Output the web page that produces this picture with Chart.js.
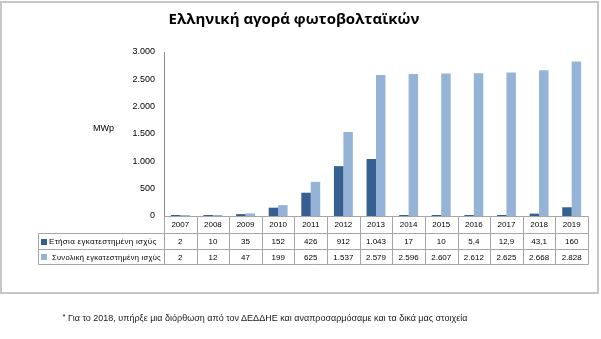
<!DOCTYPE html>
<html>
<head>
<meta charset="utf-8">
<script src="https://cdn.jsdelivr.net/npm/chart.js@4/dist/chart.umd.min.js"></script>
<style>
  html, body { margin: 0; padding: 0; background: #fff; }
  #wrap { position: relative; width: 601px; height: 339px; overflow: hidden; }
  #frame { position: absolute; left: 0; top: 1px; width: 595px; height: 289px; border: 2px solid #C6C6C6; }
  canvas { position: absolute; left: 0; top: 0; }
  #note { position: absolute; left: 0; width: 530px; top: 312px; text-align: center;
          font: 9px "Liberation Sans", Arial, sans-serif; color: #1a1a1a; white-space: nowrap; }
  #note sup { font-size: 8px; vertical-align: 2px; }
</style>
</head>
<body>
<div id="wrap">
  <div id="frame"></div>
  <canvas id="pv" width="601" height="339"></canvas>
  <div id="note"><sup>*</sup> Για το 2018, υπήρξε μια διόρθωση από τον ΔΕΔΔΗΕ και αναπροσαρμόσαμε και τα δικά μας στοιχεία</div>
</div>
<script>
// Installed PV capacity in Greece (MWp)
const years = ['2007','2008','2009','2010','2011','2012','2013','2014','2015','2016','2017','2018','2019'];
const annualMW = [2, 10, 35, 152, 426, 912, 1043, 17, 10, 5.4, 12.9, 43.1, 160];
const totalMW = [2, 12, 47, 199, 625, 1537, 2579, 2596, 2607, 2612, 2625, 2668, 2828];
const seriesNames = ['Ετήσια εγκατεστημένη ισχύς', 'Συνολική εγκατεστημένη ισχύς'];
const titleText = 'Ελληνική αγορά φωτοβολταϊκών';
const unitLabel = 'MWp';
const yMax = 3000;
const yStep = 500;

const darkBlue = '#376092';
const lightBlue = '#95B3D7';
const gridGray = '#A6A6A6';

// Greek number style: dot for thousands, comma for decimals
function fmt(v) {
  const [i, d] = String(v).split('.');
  const int = i.replace(/\B(?=(\d{3})+(?!\d))/g, '.');
  return d ? int + ',' + d : int;
}

const FONT = '"Liberation Sans", Arial, sans-serif';

// Data table under the category axis plus the unit label
const dataTable = {
  id: 'dataTable',
  afterDraw(chart) {
    const { ctx, chartArea: a, scales: { x } } = chart;
    const n = years.length;
    const cw = (x.right - x.left) / n;
    const r0 = Math.round(a.bottom) + 0.5;
    const rows = [r0, r0 + 17, r0 + 33, r0 + 48];
    const tableLeft = 38.5;
    const right = Math.round(x.right) + 0.5;

    ctx.save();
    ctx.strokeStyle = gridGray;
    ctx.lineWidth = 1;
    ctx.beginPath();
    ctx.moveTo(Math.round(x.left) + 0.5, rows[0]);
    ctx.lineTo(right, rows[0]);
    for (let r = 1; r < rows.length; r++) {
      ctx.moveTo(tableLeft, rows[r]);
      ctx.lineTo(right, rows[r]);
    }
    for (let i = 0; i <= n; i++) {
      const bx = Math.round(x.left + cw * i) + 0.5;
      ctx.moveTo(bx, rows[0]);
      ctx.lineTo(bx, rows[3]);
    }
    ctx.moveTo(tableLeft, rows[1]);
    ctx.lineTo(tableLeft, rows[3]);
    ctx.stroke();

    // value rows
    ctx.fillStyle = '#000';
    ctx.font = '8px ' + FONT;
    ctx.textAlign = 'center';
    ctx.textBaseline = 'middle';
    const series = [annualMW, totalMW];
    series.forEach((vals, s) => {
      const cy = (rows[s + 1] + rows[s + 2]) / 2 + 0.5;
      vals.forEach((v, i) => ctx.fillText(fmt(v), x.getPixelForValue(i), cy));
    });

    // legend keys in the row headers
    const keyColors = [darkBlue, lightBlue];
    ctx.textAlign = 'left';
    ctx.font = '8px ' + FONT;
    if ('letterSpacing' in ctx) ctx.letterSpacing = '0.3px';
    seriesNames.forEach((name, s) => {
      const cy = (rows[s + 1] + rows[s + 2]) / 2;
      ctx.fillStyle = keyColors[s];
      ctx.fillRect(41, Math.round(cy) - 3, 6, 6);
      ctx.fillStyle = '#000';
      const tx = s === 0 ? 49 : 52;
      ctx.fillText(name, tx, cy + 0.5, 161 - tx);
    });
    if ('letterSpacing' in ctx) ctx.letterSpacing = '0px';

    // unit label
    ctx.font = '9px ' + FONT;
    ctx.fillText(unitLabel, 93, 129);
    ctx.restore();
  }
};

new Chart(document.getElementById('pv'), {
  type: 'bar',
  data: {
    labels: years,
    datasets: [
      { label: seriesNames[0], data: annualMW, backgroundColor: darkBlue },
      { label: seriesNames[1], data: totalMW, backgroundColor: lightBlue }
    ]
  },
  options: {
    responsive: false,
    animation: false,
    devicePixelRatio: 1,
    layout: { padding: { left: 0, right: 13, top: 0, bottom: 0 } },
    datasets: { bar: { categoryPercentage: 0.58, barPercentage: 1, minBarLength: 1 } },
    plugins: {
      legend: { display: false },
      tooltip: { enabled: false },
      title: {
        display: true,
        text: titleText,
        color: '#000',
        font: { family: '"Open Sans", sans-serif', size: 15, weight: 'bold', lineHeight: 1.2 },
        padding: { top: 11, bottom: 23 }
      }
    },
    scales: {
      x: {
        grid: { display: false, drawTicks: false },
        border: { display: false },
        ticks: { color: '#000', font: { family: FONT, size: 8 }, padding: 4, maxRotation: 0 },
        afterFit(s) { s.height = 123; }
      },
      y: {
        min: 0,
        max: yMax,
        grid: { display: false, drawTicks: false },
        border: { display: true, color: '#8C8C8C', width: 1 },
        ticks: { stepSize: yStep, color: '#000', font: { family: FONT, size: 9 }, padding: 9,
                 callback: v => fmt(v) },
        afterFit(s) { s.width = 164; }
      }
    }
  },
  plugins: [dataTable]
});
</script>
</body>
</html>
